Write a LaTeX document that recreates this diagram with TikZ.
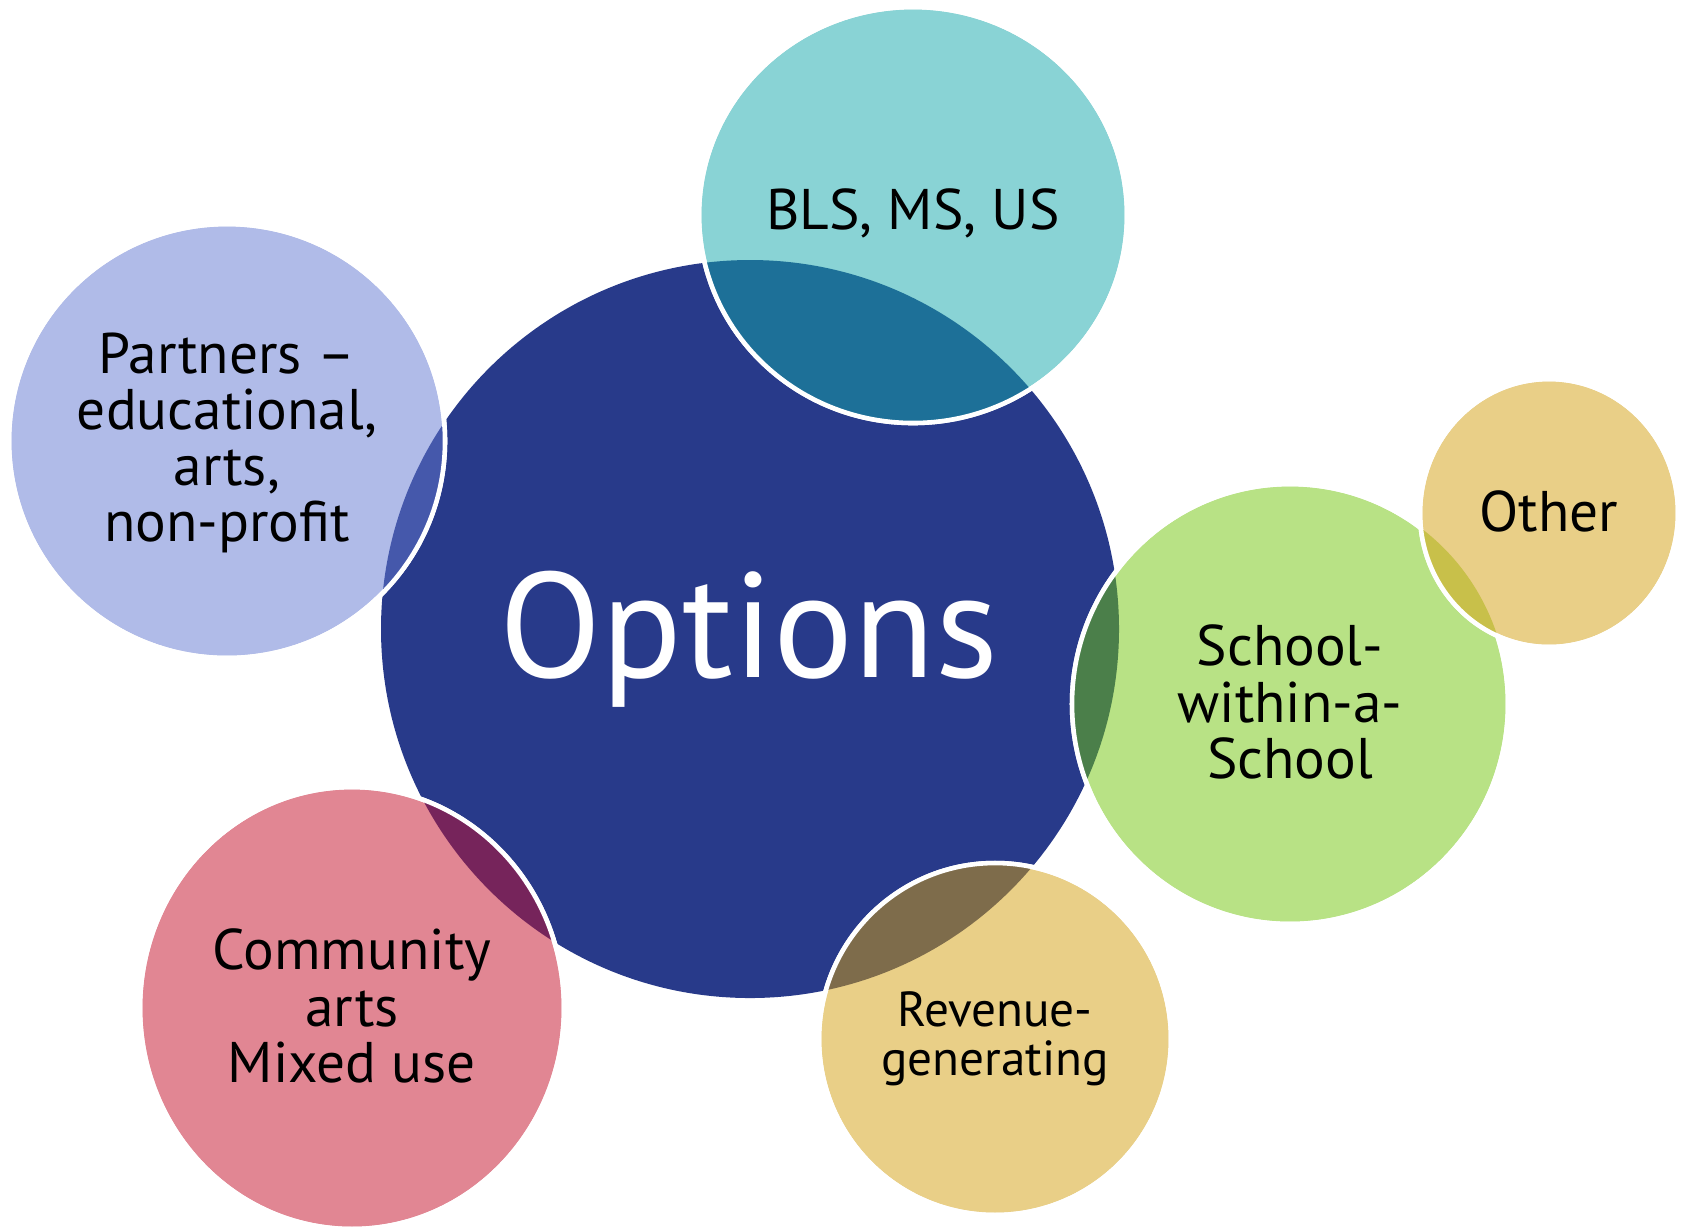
\documentclass[tikz,border=0pt]{standalone}
\usepackage{fontspec}
\setmainfont{PT Sans}
\usetikzlibrary{positioning}
\definecolor{optblue}{HTML}{283A8A}
\definecolor{blsteal}{HTML}{89D3D5}
\definecolor{blsdark}{HTML}{1D7098}
\definecolor{partlav}{HTML}{B0BBE8}
\definecolor{partdark}{HTML}{4558AB}
\definecolor{swasgreen}{HTML}{B8E285}
\definecolor{swasdark}{HTML}{4B7F4A}
\definecolor{othergold}{HTML}{E9CF87}
\definecolor{otherdark}{HTML}{C8C04A}
\definecolor{commpink}{HTML}{E18693}
\definecolor{commdark}{HTML}{76245B}
\definecolor{revgold}{HTML}{E9CF87}
\definecolor{revdark}{HTML}{7E6C4B}

\tikzset{
  bubble/.style={draw=white, line width=1.3pt},
  bubbletext/.style={align=center, font=\fontsize{16.3}{16}\selectfont},
  smalltext/.style={align=center, font=\fontsize{14}{13.8}\selectfont}
}

\begin{document}
\begin{tikzpicture}[x=0.01cm, y=-0.01cm]
  \useasboundingbox (0,0) rectangle (1686,1229);
  % centre circle
  \fill[optblue] (750,629) circle[radius=369];

  % outer bubbles, each one darker where it lies on the centre
  \foreach \cx/\cy/\rx/\ry/\fc/\oc in {
      913/215/214/208/blsteal/blsdark,
      227/441/218/217/partlav/partdark,
      1290/704/218/220/swasgreen/swasdark,
      352/1008/212/221/commpink/commdark,
      995/1039/176/176/revgold/revdark}{
    \path[bubble, fill=\fc] (\cx,\cy) ellipse[x radius=\rx, y radius=\ry];
    \begin{scope}
      \clip (\cx,\cy) ellipse[x radius=\rx, y radius=\ry];
      \fill[\oc] (750,629) circle[radius=369];
    \end{scope}
    \draw[bubble] (\cx,\cy) ellipse[x radius=\rx, y radius=\ry];
  }

  % small bubble on top of the green one
  \path[bubble, fill=othergold] (1549,513) ellipse[x radius=129, y radius=134];
  \begin{scope}
    \clip (1549,513) ellipse[x radius=129, y radius=134];
    \fill[otherdark] (1290,704) ellipse[x radius=218, y radius=220];
  \end{scope}
  \draw[bubble] (1549,513) ellipse[x radius=129, y radius=134];

  % labels
  \node[white, anchor=base, font=\fontsize{42.5}{42.5}\selectfont] (options) at (749,677) {Options};
  \node[bubbletext] (bls) at (913,213) {BLS, MS, US};
  \node[bubbletext] (partners) at (227,443) {Partners~–\\educational,\\arts,\\non-profit};
  \node[bubbletext] (swas) at (1290,702) {School-\\within-a-\\School};
  \node[bubbletext] (other) at (1549,511) {Other};
  \node[bubbletext] (community) at (352,1006) {Community\\arts\\Mixed use};
  \node[smalltext] (revenue) at (995,1039) {Revenue-\\generating};
\end{tikzpicture}
\end{document}
